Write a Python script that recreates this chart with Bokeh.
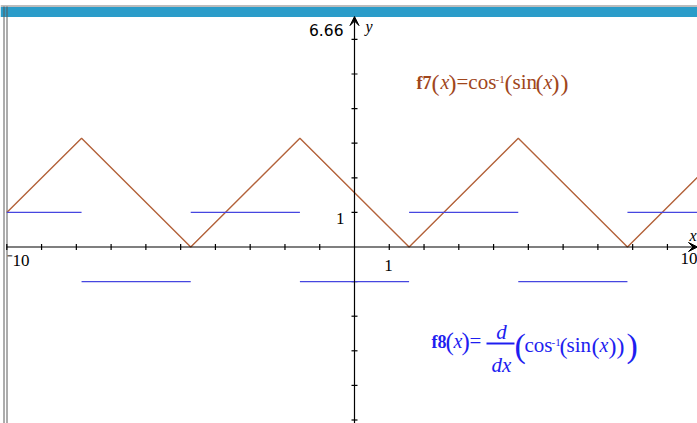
from bokeh.plotting import figure
from bokeh.models import Range1d, Arrow, VeeHead
from bokeh.core.properties import value
from bokeh.embed import file_html
from bokeh.resources import INLINE

# f7(x) = arccos(sin(x)) : corner points of the zig-zag
f7_x = [-10, -7.85, -4.71, -1.57, 1.57, 4.71, 7.85, 10]
f7_y = [1.0, 3.14, 0.0, 3.14, 0.0, 3.14, 0.0, 2.15]

# f8(x) = d/dx arccos(sin(x)) : constant pieces
f8_x0 = [-10, -7.85, -4.71, -1.57, 1.57, 4.71, 7.85]
f8_x1 = [-7.85, -4.71, -1.57, 1.57, 4.71, 7.85, 10]
f8_y = [1, -1, 1, -1, 1, -1, 1]

x_ticks = [t for t in range(-10, 10) if t != 0]
y_ticks = [t for t in range(-5, 7) if t != 0]
y_top = 6.66

W, H = 697, 423
X0, SX = 354.0, 34.77   # pixel column of x=0, pixels per unit
Y0, SY = 246.5, 34.6    # pixel row of y=0, pixels per unit


def dx(px):
    return (px - X0) / SX


def dy(py):
    return (Y0 - py) / SY


BROWN_LINE = "#b3623a"
BROWN_TEXT = "#a0461c"
BLUE_LINE = "#4646e0"
BLUE_TEXT = "#1e1ef0"
SERIF = value("Liberation Serif")

p = figure(width=W, height=H, output_backend="svg", toolbar_location=None,
           x_range=Range1d(dx(0), dx(W)), y_range=Range1d(dy(H), dy(0)),
           x_axis_location=None, y_axis_location=None, min_border=0)
p.outline_line_color = None
p.xgrid.visible = False
p.ygrid.visible = False
p.background_fill_color = "white"
p.border_fill_color = "white"

# window frame: title strip and left border
p.quad(left=dx(0), right=dx(W), top=dy(6.5), bottom=dy(16.5),
       fill_color="#2b9cc9", line_color=None)
p.segment(x0=dx(0), x1=dx(W), y0=dy(5.5), y1=dy(5.5), line_color="#7a7a7a", line_width=1)
p.segment(x0=[dx(3.5), dx(6.5)], x1=[dx(3.5), dx(6.5)], y0=dy(6), y1=dy(H),
          line_color="#5a5a5a", line_width=1)

# axes with arrow heads
p.add_layout(Arrow(x_start=-10, y_start=0, x_end=dx(697), y_end=0,
                   line_color="black", line_width=1.2,
                   end=VeeHead(size=9, fill_color="black", line_color="black", line_width=1)))
p.add_layout(Arrow(x_start=0, y_start=dy(H), x_end=0, y_end=y_top,
                   line_color="black", line_width=1.2,
                   end=VeeHead(size=9, fill_color="black", line_color="black", line_width=1)))

tx = 3.0 / SY
p.segment(x0=x_ticks, x1=x_ticks, y0=[-tx] * len(x_ticks), y1=[tx] * len(x_ticks),
          line_color="black", line_width=1.2)
ty = 3.0 / SX
p.segment(x0=[-ty] * len(y_ticks), x1=[ty] * len(y_ticks), y0=y_ticks, y1=y_ticks,
          line_color="black", line_width=1.2)

# curves
p.line(f7_x, f7_y, line_color=BROWN_LINE, line_width=1.4)
p.segment(x0=f8_x0, x1=f8_x1, y0=f8_y, y1=f8_y, line_color=BLUE_LINE, line_width=1.4)

# the alphabetic baseline lands about a third of an em low; lift it back
BASE_SHIFT = 0.32


def txt(px, py, s, size, color="black", style="normal", align="left", font=SERIF):
    y = py - BASE_SHIFT * size
    p.text(x=[dx(px)], y=[dy(y)], text=[s], text_font=font,
           text_font_size=f"{size}px", text_color=color, text_font_style=style,
           text_align=align, text_baseline="alphabetic")


# axis labels
txt(343, 34, "6.66", 15.5, align="right", font=value("DejaVu Sans"))
txt(365, 31, "y", 16, style="italic")
txt(344, 223, "1", 17, align="right")
txt(388, 270, "1", 17, align="center")
txt(6, 265, "\u207b10", 17, align="left")
txt(680, 263, "10", 17, align="left")
txt(689, 240, "x", 16, style="italic")

# f7 formula
c = BROWN_TEXT
b7 = 88
txt(416, b7, "f7", 18, c, "bold")
txt(431, b7 + 2, "(", 24, c)
txt(440, b7, "x", 20, c, "italic")
txt(448, b7 + 2, ")", 24, c)
txt(456, b7, "=cos", 21, c)
txt(495, b7 - 5, "-1", 11, c)
txt(504, b7 + 2, "(", 24, c)
txt(512, b7, "sin", 21, c)
txt(535, b7 + 2, "(", 24, c)
txt(543, b7, "x", 20, c, "italic")
txt(551, b7 + 2, ")", 24, c)
txt(560, b7 + 2, ")", 24, c)

# f8 formula
c = BLUE_TEXT
b8 = 347
txt(431, b8, "f8", 18, c, "bold")
txt(445, b8 + 2, "(", 25, c)
txt(453, b8, "x", 20, c, "italic")
txt(461, b8 + 2, ")", 25, c)
txt(469, b8, "=", 21, c)
p.segment(x0=dx(486), x1=dx(514), y0=dy(343), y1=dy(343), line_color=c, line_width=2)
txt(501, 338, "d", 21, c, "italic", align="center")
txt(501, 371, "dx", 21, c, "italic", align="center")
bc = 351
txt(514, bc + 5, "(", 34, c)
txt(524, bc, "cos", 21, c)
txt(551, bc - 5, "-1", 11, c)
txt(559, bc + 2, "(", 24, c)
txt(566, bc, "sin", 21, c)
txt(591, bc + 2, "(", 24, c)
txt(599, bc, "x", 20, c, "italic")
txt(608, bc + 2, ")", 24, c)
txt(616, bc + 2, ")", 24, c)
txt(626, bc + 5, ")", 34, c)

open("out.html", "w").write(file_html(p, INLINE))
